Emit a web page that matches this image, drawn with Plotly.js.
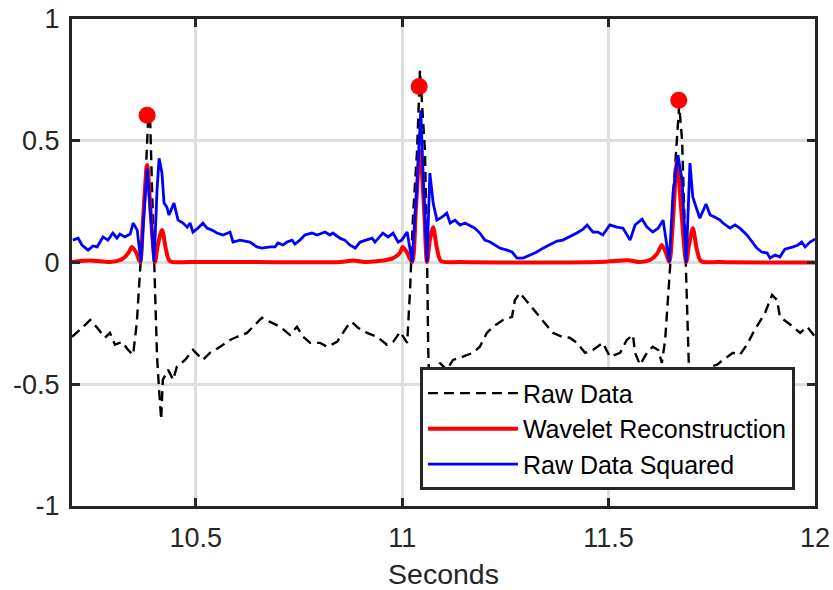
<!DOCTYPE html>
<html>
<head>
<meta charset="utf-8">
<script src="https://cdn.plot.ly/plotly-3.0.1.min.js"></script>
<style>html,body{margin:0;padding:0;background:#fff;}#chart{width:833px;height:590px;}</style>
</head>
<body>
<div id="chart"></div>
<script>
// Raw Data (black dashed)
const rawX = [10.200,10.219,10.244,10.261,10.280,10.292,10.304,10.321,10.336,10.348,10.357,10.365,10.377,10.384,10.389,10.394,10.401,10.406,10.411,10.416,10.420,10.433,10.445,10.454,10.474,10.493,10.517,10.534,10.559,10.583,10.600,10.624,10.648,10.660,10.680,10.704,10.728,10.745,10.760,10.777,10.801,10.818,10.842,10.866,10.878,10.893,10.915,10.939,10.963,10.978,10.995,11.012,11.019,11.026,11.036,11.043,11.055,11.060,11.063,11.067,11.075,11.084,11.091,11.108,11.123,11.147,11.171,11.188,11.205,11.220,11.244,11.266,11.273,11.285,11.305,11.326,11.346,11.365,11.387,11.406,11.423,11.443,11.462,11.486,11.503,11.528,11.544,11.559,11.564,11.576,11.593,11.607,11.620,11.629,11.637,11.642,11.649,11.656,11.666,11.671,11.678,11.685,11.693,11.697,11.704,11.714,11.729,11.746,11.763,11.777,11.801,11.818,11.835,11.850,11.867,11.879,11.896,11.908,11.915,11.932,11.947,11.964,11.981,12.000];
const rawY = [-0.305,-0.277,-0.236,-0.268,-0.309,-0.289,-0.338,-0.326,-0.359,-0.379,-0.248,-0.031,0.297,0.572,0.605,0.297,-0.059,-0.387,-0.523,-0.645,-0.482,-0.441,-0.482,-0.428,-0.400,-0.359,-0.400,-0.371,-0.346,-0.318,-0.305,-0.289,-0.248,-0.227,-0.244,-0.264,-0.297,-0.264,-0.305,-0.330,-0.330,-0.346,-0.326,-0.264,-0.244,-0.268,-0.289,-0.305,-0.338,-0.326,-0.285,-0.330,-0.113,0.186,0.461,0.789,0.461,0.051,-0.359,-0.564,-0.645,-0.502,-0.412,-0.441,-0.400,-0.387,-0.371,-0.346,-0.289,-0.264,-0.236,-0.223,-0.154,-0.125,-0.166,-0.207,-0.248,-0.289,-0.305,-0.309,-0.330,-0.371,-0.359,-0.330,-0.387,-0.371,-0.318,-0.297,-0.371,-0.420,-0.371,-0.346,-0.359,-0.412,-0.318,-0.207,-0.018,0.268,0.543,0.645,0.502,0.064,-0.346,-0.564,-0.645,-0.502,-0.453,-0.428,-0.420,-0.400,-0.371,-0.379,-0.338,-0.289,-0.244,-0.207,-0.133,-0.154,-0.223,-0.244,-0.264,-0.289,-0.264,-0.305];

// Wavelet Reconstruction (red)
const wavX = [10.200,10.244,10.292,10.316,10.328,10.338,10.345,10.355,10.365,10.372,10.382,10.391,10.401,10.408,10.418,10.428,10.437,10.486,10.631,10.849,10.881,10.910,10.953,10.978,10.994,11.001,11.011,11.024,11.033,11.043,11.053,11.060,11.067,11.075,11.084,11.094,11.140,11.479,11.547,11.576,11.600,11.617,11.629,11.638,11.647,11.656,11.666,11.676,11.688,11.695,11.704,11.714,11.724,11.770,12.000];
const wavY = [0.002,0.008,0.002,0.010,0.023,0.043,0.064,0.043,0.002,0.174,0.400,0.195,0.002,0.072,0.133,0.051,0.006,0.002,0.002,0.002,0.008,0.002,0.008,0.018,0.039,0.064,0.043,0.002,0.215,0.461,0.215,0.002,0.092,0.145,0.059,0.006,0.002,0.002,0.009,0.002,0.010,0.035,0.072,0.043,0.002,0.174,0.420,0.215,0.002,0.072,0.141,0.051,0.006,0.002,0.000];

// Raw Data Squared (blue)
const sqX = [10.202,10.215,10.224,10.239,10.251,10.261,10.275,10.287,10.299,10.309,10.316,10.328,10.341,10.348,10.358,10.367,10.374,10.382,10.391,10.399,10.406,10.411,10.418,10.423,10.430,10.435,10.447,10.457,10.469,10.479,10.486,10.493,10.505,10.517,10.527,10.539,10.551,10.566,10.583,10.590,10.607,10.631,10.648,10.660,10.680,10.692,10.699,10.711,10.721,10.733,10.740,10.752,10.764,10.781,10.794,10.813,10.825,10.832,10.849,10.861,10.873,10.886,10.898,10.915,10.927,10.934,10.953,10.966,10.978,10.990,10.999,11.012,11.024,11.036,11.045,11.050,11.060,11.067,11.075,11.084,11.096,11.108,11.116,11.128,11.140,11.152,11.164,11.176,11.188,11.200,11.213,11.225,11.237,11.254,11.266,11.278,11.293,11.310,11.326,11.341,11.358,11.375,11.389,11.406,11.423,11.438,11.448,11.462,11.474,11.486,11.503,11.520,11.535,11.552,11.564,11.581,11.593,11.607,11.620,11.632,11.647,11.656,11.668,11.678,11.688,11.697,11.704,11.712,11.721,11.736,11.746,11.758,11.770,11.777,11.794,11.806,11.818,11.835,11.847,11.859,11.871,11.884,11.891,11.903,11.915,11.927,11.947,11.959,11.968,11.976,11.988,12.000];
const sqY = [0.092,0.100,0.072,0.051,0.068,0.064,0.105,0.092,0.121,0.100,0.117,0.105,0.117,0.162,0.133,0.002,0.186,0.387,0.186,0.002,0.297,0.428,0.367,0.244,0.227,0.195,0.244,0.174,0.162,0.145,0.162,0.125,0.141,0.162,0.141,0.133,0.121,0.113,0.125,0.084,0.092,0.084,0.064,0.059,0.064,0.064,0.080,0.072,0.084,0.092,0.076,0.092,0.113,0.121,0.113,0.125,0.113,0.121,0.100,0.092,0.072,0.059,0.084,0.092,0.100,0.084,0.121,0.105,0.121,0.084,0.092,0.125,0.002,0.326,0.625,0.391,0.002,0.367,0.244,0.174,0.186,0.203,0.162,0.174,0.154,0.162,0.150,0.141,0.121,0.092,0.084,0.072,0.059,0.051,0.043,0.018,0.018,0.031,0.043,0.059,0.072,0.088,0.092,0.105,0.121,0.137,0.154,0.125,0.125,0.113,0.154,0.145,0.141,0.092,0.154,0.178,0.145,0.125,0.141,0.174,0.002,0.285,0.441,0.338,0.000,0.408,0.268,0.227,0.182,0.240,0.195,0.186,0.174,0.162,0.141,0.154,0.141,0.113,0.084,0.059,0.043,0.039,0.018,0.031,0.023,0.055,0.064,0.072,0.084,0.064,0.084,0.096];

// Detected R peaks (red dots)
const peakX = [10.382, 11.041, 11.670];
const peakY = [0.605, 0.723, 0.666];

const xTicks = [10.5, 11, 11.5, 12];
const xTickText = ["10.5", "11", "11.5", "12"];
const yTicks = [-1, -0.5, 0, 0.5, 1];
const yTickText = ["-1", "-0.5", "0", "0.5", "1"];

const font = "Liberation Sans, Arial, Helvetica, sans-serif";
const dark = "#262626";

const traces = [
  {x: rawX, y: rawY, type: "scatter", mode: "lines", name: "Raw Data",
   line: {color: "#000000", width: 2.4, dash: "10px,6px"}},
  {x: wavX, y: wavY, type: "scatter", mode: "lines", name: "Wavelet Reconstruction",
   line: {color: "#ff0000", width: 4, shape: "spline", smoothing: 0.8}},
  {x: sqX, y: sqY, type: "scatter", mode: "lines", name: "Raw Data Squared",
   line: {color: "#0000ff", width: 2.8}},
  {x: peakX, y: peakY, type: "scatter", mode: "markers", showlegend: false,
   marker: {color: "#ff0000", size: 17}}
];

const layout = {
  width: 833, height: 590,
  margin: {l: 72, r: 18, t: 19, b: 84, pad: 0},
  paper_bgcolor: "#ffffff", plot_bgcolor: "#ffffff",
  font: {family: font, color: dark, size: 27},
  showlegend: true,
  legend: {
    x: 0.973, y: 0.032, xanchor: "right", yanchor: "bottom",
    bgcolor: "#ffffff", bordercolor: dark, borderwidth: 3,
    font: {family: font, size: 25, color: "#000000"},
    itemwidth: 90, tracegroupgap: 0
  },
  xaxis: {
    range: [10.2, 12], tickvals: xTicks, ticktext: xTickText,
    showgrid: true, gridcolor: "#dedede", gridwidth: 3, zeroline: false,
    showline: true, linecolor: dark, linewidth: 3, mirror: "ticks",
    ticks: "inside", ticklen: 8, tickwidth: 3, tickcolor: dark,
    ticklabelstandoff: 6,
    tickfont: {family: font, size: 27, color: dark},
    title: {text: "Seconds", font: {family: font, size: 28.5, color: dark}, standoff: 17}
  },
  yaxis: {
    range: [-1, 1], tickvals: yTicks, ticktext: yTickText,
    showgrid: true, gridcolor: "#dedede", gridwidth: 3, zeroline: false,
    showline: true, linecolor: dark, linewidth: 3, mirror: "ticks",
    ticks: "inside", ticklen: 8, tickwidth: 3, tickcolor: dark,
    ticklabelstandoff: 4,
    tickfont: {family: font, size: 27, color: dark}
  }
};

Plotly.newPlot("chart", traces, layout, {displayModeBar: false, staticPlot: true});
</script>
</body>
</html>
